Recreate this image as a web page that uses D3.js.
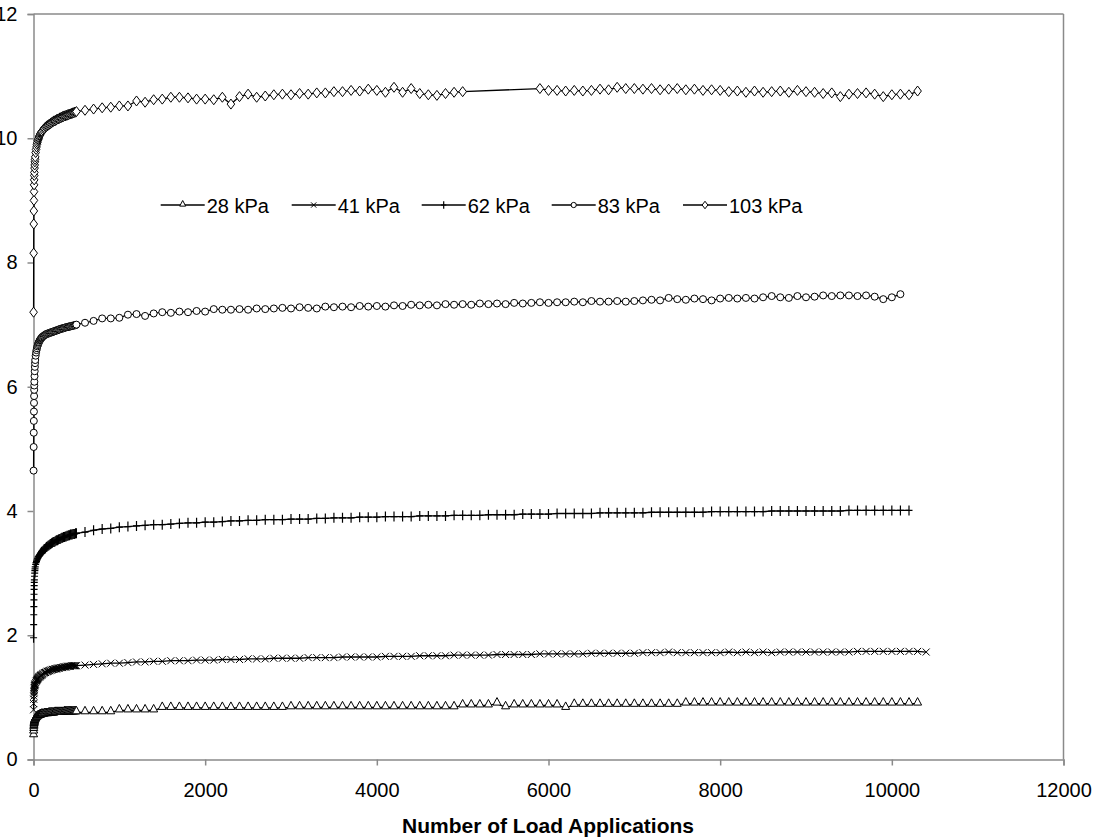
<!DOCTYPE html>
<html>
<head>
<meta charset="utf-8">
<script src="https://cdn.jsdelivr.net/npm/d3@7"></script>
<style>
  html, body { margin: 0; padding: 0; background: #fff; }
  svg { display: block; }
  text { font-family: "Liberation Sans", Arial, sans-serif; }
</style>
</head>
<body>
<svg id="chart" width="1093" height="839"></svg>
<script>
// ---------------- DATA ----------------
const xTicks = [0, 2000, 4000, 6000, 8000, 10000, 12000];
const yTicks = [0, 2, 4, 6, 8, 10, 12];
const xTitle = "Number of Load Applications";
const seriesNames = ["28 kPa", "41 kPa", "62 kPa", "83 kPa", "103 kPa"];
const seriesMarkers = ["triangle", "cross", "plus", "circle", "diamond"];

// early (dense) load cycles
const earlyCycles = [1, 2, 3, 4, 5, 6, 7, 8, 9, 10, 12, 14, 16, 18, 20,
  25, 30, 35, 40, 45, 50, 55, 60, 65, 70, 75, 80, 85, 90, 95, 100,
  110, 120, 130, 140, 150, 160, 170, 180, 190, 200,
  210, 220, 230, 240, 250, 260, 270, 280, 290, 300,
  310, 320, 330, 340, 350, 360, 370, 380, 390, 400,
  410, 420, 430, 440, 450, 460, 470, 480, 490, 500];
// later load cycles: 600, 700, ..., 10400
const lateCycles = [600, 700, 800, 900, 1000, 1100, 1200, 1300, 1400, 1500, 1600, 1700, 1800, 1900,
  2000, 2100, 2200, 2300, 2400, 2500, 2600, 2700, 2800, 2900, 3000, 3100, 3200, 3300, 3400, 3500,
  3600, 3700, 3800, 3900, 4000, 4100, 4200, 4300, 4400, 4500, 4600, 4700, 4800, 4900, 5000, 5100,
  5200, 5300, 5400, 5500, 5600, 5700, 5800, 5900, 6000, 6100, 6200, 6300, 6400, 6500, 6600, 6700,
  6800, 6900, 7000, 7100, 7200, 7300, 7400, 7500, 7600, 7700, 7800, 7900, 8000, 8100, 8200, 8300,
  8400, 8500, 8600, 8700, 8800, 8900, 9000, 9100, 9200, 9300, 9400, 9500, 9600, 9700, 9800, 9900,
  10000, 10100, 10200, 10300, 10400];

const early28 = [0.39, 0.45, 0.49, 0.52, 0.54, 0.56, 0.57, 0.58, 0.59, 0.60, 0.61, 0.62, 0.63, 0.64, 0.64,
  0.65, 0.66, 0.67, 0.68, 0.68, 0.69, 0.69, 0.70, 0.70, 0.70, 0.71, 0.71, 0.71, 0.71, 0.72, 0.72,
  0.72, 0.72, 0.73, 0.73, 0.73, 0.73, 0.73, 0.74, 0.74, 0.74,
  0.74, 0.74, 0.74, 0.74, 0.75, 0.75, 0.75, 0.75, 0.75, 0.75,
  0.75, 0.75, 0.75, 0.75, 0.75, 0.76, 0.76, 0.76, 0.76, 0.76,
  0.76, 0.76, 0.76, 0.76, 0.76, 0.76, 0.76, 0.76, 0.76, 0.76];
const late28 = [0.76, 0.76, 0.76, 0.76, 0.79, 0.79, 0.79, 0.79, 0.79, 0.83, 0.83, 0.83, 0.83, 0.83,
  0.83, 0.83, 0.83, 0.83, 0.83, 0.83, 0.83, 0.83, 0.83, 0.83, 0.84, 0.84, 0.84, 0.84, 0.84, 0.84,
  0.84, 0.84, 0.84, 0.84, 0.84, 0.84, 0.84, 0.84, 0.84, 0.84, 0.84, 0.84, 0.84, 0.84, 0.87, 0.87,
  0.87, 0.87, 0.90, 0.84, 0.87, 0.87, 0.87, 0.87, 0.87, 0.87, 0.83, 0.88, 0.88, 0.88, 0.88, 0.88,
  0.88, 0.88, 0.88, 0.88, 0.88, 0.88, 0.88, 0.88, 0.90, 0.90, 0.90, 0.90, 0.90, 0.90, 0.90, 0.90,
  0.90, 0.90, 0.90, 0.90, 0.90, 0.90, 0.90, 0.90, 0.90, 0.90, 0.90, 0.90, 0.90, 0.90, 0.90, 0.90,
  0.90, 0.90, 0.90, 0.90, null];

const early41 = [0.80, 0.90, 0.97, 1.02, 1.06, 1.09, 1.11, 1.13, 1.15, 1.16, 1.18, 1.19, 1.20, 1.21, 1.22,
  1.24, 1.26, 1.27, 1.28, 1.29, 1.30, 1.31, 1.32, 1.33, 1.33, 1.34, 1.35, 1.35, 1.36, 1.36, 1.37,
  1.38, 1.39, 1.40, 1.40, 1.41, 1.42, 1.42, 1.43, 1.43, 1.44,
  1.44, 1.45, 1.45, 1.45, 1.46, 1.46, 1.46, 1.47, 1.47, 1.47,
  1.48, 1.48, 1.48, 1.48, 1.49, 1.49, 1.49, 1.49, 1.50, 1.50,
  1.50, 1.50, 1.50, 1.51, 1.51, 1.51, 1.51, 1.51, 1.51, 1.51];
const late41 = [1.52, 1.53, 1.54, 1.55, 1.55, 1.56, 1.57, 1.57, 1.58, 1.58, 1.59, 1.59, 1.59, 1.60,
  1.60, 1.60, 1.61, 1.61, 1.61, 1.62, 1.62, 1.62, 1.63, 1.63, 1.63, 1.63, 1.64, 1.64, 1.64, 1.64,
  1.65, 1.65, 1.65, 1.65, 1.65, 1.66, 1.66, 1.66, 1.66, 1.67, 1.67, 1.67, 1.67, 1.68, 1.68, 1.68,
  1.68, 1.68, 1.69, 1.69, 1.69, 1.69, 1.69, 1.70, 1.70, 1.70, 1.70, 1.70, 1.70, 1.71, 1.71, 1.71,
  1.71, 1.71, 1.71, 1.72, 1.72, 1.72, 1.73, 1.72, 1.72, 1.72, 1.72, 1.72, 1.72, 1.73, 1.72, 1.73,
  1.72, 1.73, 1.72, 1.73, 1.73, 1.73, 1.73, 1.73, 1.73, 1.73, 1.73, 1.73, 1.74, 1.74, 1.74, 1.74,
  1.74, 1.74, 1.74, 1.74, 1.73];

const early62 = [1.96, 2.17, 2.33, 2.46, 2.57, 2.66, 2.74, 2.80, 2.85, 2.89, 2.95, 3.00, 3.04, 3.07, 3.10,
  3.14, 3.17, 3.19, 3.21, 3.23, 3.24, 3.26, 3.27, 3.28, 3.29, 3.30, 3.31, 3.32, 3.33, 3.34, 3.35,
  3.36, 3.38, 3.39, 3.40, 3.42, 3.43, 3.44, 3.45, 3.46, 3.47,
  3.48, 3.49, 3.50, 3.50, 3.51, 3.52, 3.53, 3.53, 3.54, 3.55,
  3.55, 3.56, 3.57, 3.57, 3.58, 3.58, 3.59, 3.59, 3.60, 3.60,
  3.61, 3.61, 3.62, 3.62, 3.62, 3.63, 3.63, 3.63, 3.64, 3.64];
const late62 = [3.66, 3.69, 3.71, 3.72, 3.74, 3.75, 3.76, 3.77, 3.78, 3.78, 3.79, 3.80, 3.81, 3.81,
  3.82, 3.82, 3.83, 3.84, 3.84, 3.85, 3.85, 3.86, 3.86, 3.86, 3.87, 3.87, 3.87, 3.88, 3.88, 3.89,
  3.89, 3.89, 3.90, 3.90, 3.90, 3.91, 3.91, 3.91, 3.91, 3.92, 3.92, 3.92, 3.92, 3.93, 3.93, 3.93,
  3.93, 3.94, 3.94, 3.94, 3.94, 3.95, 3.95, 3.95, 3.95, 3.96, 3.96, 3.96, 3.96, 3.96, 3.97, 3.97,
  3.97, 3.97, 3.97, 3.97, 3.98, 3.98, 3.98, 3.98, 3.98, 3.98, 3.98, 3.99, 3.99, 3.99, 3.99, 3.99,
  3.99, 3.99, 4.00, 4.00, 4.00, 4.00, 4.00, 4.00, 4.00, 4.00, 4.00, 4.01, 4.01, 4.01, 4.01, 4.01,
  4.01, 4.01, 4.01, null, null];

const early83 = [4.65, 5.03, 5.26, 5.45, 5.60, 5.74, 5.85, 5.95, 6.02, 6.08, 6.17, 6.25, 6.32, 6.38, 6.43,
  6.50, 6.55, 6.59, 6.62, 6.65, 6.67, 6.69, 6.71, 6.72, 6.74, 6.75, 6.76, 6.77, 6.78, 6.79, 6.80,
  6.81, 6.82, 6.83, 6.84, 6.85, 6.85, 6.86, 6.86, 6.87, 6.87,
  6.88, 6.88, 6.89, 6.89, 6.90, 6.90, 6.91, 6.91, 6.92, 6.92,
  6.93, 6.93, 6.94, 6.94, 6.94, 6.95, 6.95, 6.96, 6.96, 6.96,
  6.97, 6.97, 6.97, 6.98, 6.98, 6.98, 6.99, 6.99, 6.99, 7.00];
const late83 = [7.03, 7.06, 7.10, 7.10, 7.11, 7.16, 7.17, 7.14, 7.18, 7.20, 7.19, 7.21, 7.20, 7.22,
  7.21, 7.25, 7.24, 7.24, 7.25, 7.24, 7.26, 7.25, 7.26, 7.27, 7.26, 7.28, 7.27, 7.26, 7.29, 7.28,
  7.29, 7.28, 7.30, 7.29, 7.30, 7.29, 7.31, 7.30, 7.32, 7.31, 7.32, 7.31, 7.33, 7.32, 7.33, 7.32,
  7.34, 7.33, 7.34, 7.33, 7.35, 7.34, 7.35, 7.36, 7.35, 7.36, 7.36, 7.37, 7.36, 7.38, 7.37, 7.37,
  7.38, 7.37, 7.38, 7.39, 7.40, 7.39, 7.43, 7.41, 7.40, 7.42, 7.41, 7.39, 7.42, 7.43, 7.42, 7.43,
  7.42, 7.44, 7.46, 7.44, 7.43, 7.46, 7.44, 7.45, 7.47, 7.46, 7.47, 7.47, 7.46, 7.47, 7.45, 7.41,
  7.44, 7.49, null, null, null];

const early103 = [7.20, 8.15, 8.62, 8.83, 9.00, 9.14, 9.25, 9.33, 9.40, 9.45, 9.52, 9.57, 9.62, 9.66, 9.70,
  9.77, 9.82, 9.86, 9.90, 9.93, 9.96, 9.98, 10.00, 10.02, 10.04, 10.05, 10.07, 10.08, 10.09, 10.10, 10.11,
  10.13, 10.15, 10.16, 10.18, 10.19, 10.20, 10.21, 10.22, 10.23, 10.24,
  10.25, 10.26, 10.27, 10.28, 10.28, 10.29, 10.30, 10.31, 10.31, 10.32,
  10.33, 10.33, 10.34, 10.35, 10.35, 10.36, 10.36, 10.37, 10.37, 10.38,
  10.38, 10.39, 10.39, 10.40, 10.40, 10.41, 10.41, 10.42, 10.42, 10.43];
const late103 = [10.45, 10.47, 10.49, 10.50, 10.52, 10.52, 10.60, 10.58, 10.62, 10.63, 10.66, 10.66,
  10.65, 10.63, 10.63, 10.62, 10.66, 10.55, 10.67, 10.71, 10.66, 10.68, 10.70, 10.71, 10.70, 10.72,
  10.71, 10.73, 10.73, 10.75, 10.75, 10.77, 10.76, 10.79, 10.77, 10.74, 10.82, 10.74, 10.80, 10.72,
  10.70, 10.69, 10.72, 10.74, 10.75, null, null, null, null, null, null, null, null, 10.80, 10.77,
  10.77, 10.76, 10.77, 10.76, 10.77, 10.79, 10.78, 10.82, 10.80, 10.80, 10.79, 10.80, 10.78, 10.79,
  10.80, 10.78, 10.79, 10.77, 10.78, 10.77, 10.75, 10.76, 10.74, 10.76, 10.74, 10.75, 10.76, 10.74,
  10.77, 10.75, 10.74, 10.72, 10.73, 10.67, 10.71, 10.72, 10.73, 10.71, 10.67, 10.70, 10.71, 10.70,
  10.76, null];

const earlyValues = [early28, early41, early62, early83, early103];
const lateValues = [late28, late41, late62, late83, late103];

// ---------------- CHART ----------------
const svg = d3.select("#chart");
const grey = "#8a8a8a";
const x = d3.scaleLinear().domain([0, 12000]).range([33.5, 1063.5]);
const y = d3.scaleLinear().domain([0, 12]).range([759.5, 14]);

// plot frame (top & right)
svg.append("line").attr("x1", x(0)).attr("x2", x(12000)).attr("y1", y(12)).attr("y2", y(12))
  .attr("stroke", grey).attr("stroke-width", 1.5);
svg.append("line").attr("x1", x(12000)).attr("x2", x(12000)).attr("y1", y(12)).attr("y2", y(0))
  .attr("stroke", grey).attr("stroke-width", 1.5);

const xAxis = svg.append("g").attr("transform", `translate(0,${y(0)})`)
  .call(d3.axisBottom(x).tickValues(xTicks).tickSize(6).tickPadding(17).tickFormat(d3.format("d")));
const yAxis = svg.append("g").attr("transform", `translate(${x(0)},0)`)
  .call(d3.axisLeft(y).tickValues(yTicks).tickSize(6).tickPadding(10).tickFormat(d3.format("d")));
[xAxis, yAxis].forEach(g => {
  g.select(".domain").attr("stroke", grey).attr("stroke-width", 1.5);
  g.selectAll(".tick line").attr("stroke", grey).attr("stroke-width", 1.5);
  g.selectAll(".tick text").attr("fill", "#000").style("font-size", "20px")
    .style("font-family", "\"Liberation Sans\", Arial, sans-serif");
});

svg.append("text").attr("x", 548).attr("y", 833).attr("text-anchor", "middle")
  .style("font-size", "21px").style("font-weight", "bold").text(xTitle);

// markers
function drawMarker(g, type, cx, cy, s) {
  const k = s || 1;
  if (type === "triangle") {
    g.append("path").attr("d", `M${cx},${cy - 6 * k} L${cx + 4 * k},${cy + 1.5 * k} L${cx - 4 * k},${cy + 1.5 * k} Z`)
      .attr("fill", "#fff").attr("stroke", "#000").attr("stroke-width", 1);
  } else if (type === "cross") {
    g.append("path").attr("d", `M${cx - 3.5 * k},${cy - 3.5 * k} L${cx + 3.5 * k},${cy + 3.5 * k} M${cx - 3.5 * k},${cy + 3.5 * k} L${cx + 3.5 * k},${cy - 3.5 * k}`)
      .attr("fill", "none").attr("stroke", "#000").attr("stroke-width", 1);
  } else if (type === "plus") {
    g.append("path").attr("d", `M${cx},${cy - 5 * k} L${cx},${cy + 5 * k} M${cx - 3.5 * k},${cy} L${cx + 3.5 * k},${cy}`)
      .attr("fill", "none").attr("stroke", "#000").attr("stroke-width", 1.2);
  } else if (type === "circle") {
    g.append("circle").attr("cx", cx).attr("cy", cy).attr("r", 3.5 * k)
      .attr("fill", "#fff").attr("stroke", "#000").attr("stroke-width", 1);
  } else if (type === "diamond") {
    g.append("path").attr("d", `M${cx},${cy - 5 * k} L${cx + 3.8 * k},${cy} L${cx},${cy + 5 * k} L${cx - 3.8 * k},${cy} Z`)
      .attr("fill", "#fff").attr("stroke", "#000").attr("stroke-width", 1);
  }
}

const line = d3.line().x(d => x(d.c)).y(d => y(d.v));
seriesNames.forEach((name, i) => {
  const pts = earlyCycles.map((c, j) => ({ c, v: earlyValues[i][j] }))
    .concat(lateCycles.map((c, j) => ({ c, v: lateValues[i][j] })))
    .filter(d => d.v !== null && d.v !== undefined);
  const g = svg.append("g");
  g.append("path").datum(pts).attr("d", line).attr("fill", "none")
    .attr("stroke", "#000").attr("stroke-width", 1.3);
  pts.forEach(p => drawMarker(g, seriesMarkers[i], x(p.c), y(p.v)));
});

// legend
const legendX = [160.7, 291.7, 421.7, 551.7, 683];
const legY = 205;
seriesNames.forEach((name, i) => {
  const g = svg.append("g");
  const x0 = legendX[i];
  g.append("line").attr("x1", x0).attr("x2", x0 + 44).attr("y1", legY).attr("y2", legY)
    .attr("stroke", "#000").attr("stroke-width", 1.3);
  drawMarker(g, seriesMarkers[i], x0 + 22, legY, 0.75);
  g.append("text").attr("x", x0 + 46).attr("y", legY + 7.5).style("font-size", "20px").text(name);
});
</script>
</body>
</html>
